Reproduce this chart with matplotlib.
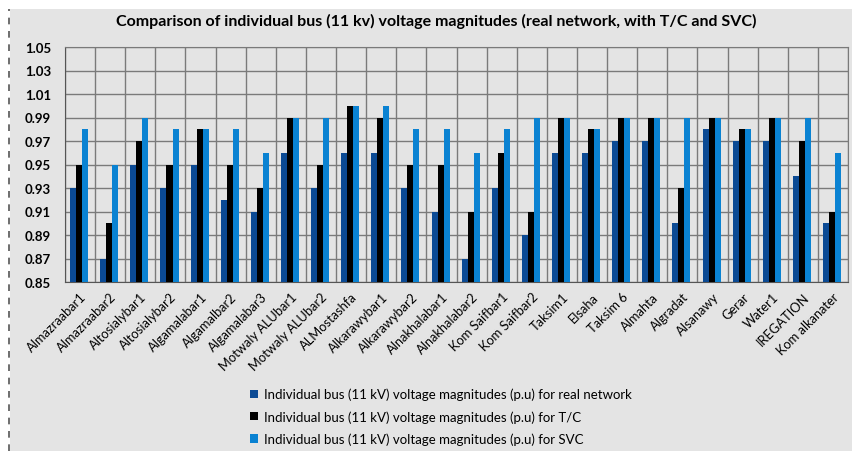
import matplotlib

matplotlib.use("Agg")
import matplotlib.pyplot as plt
import numpy as np
from matplotlib.patches import Rectangle

plt.rcParams["font.family"] = ["Lato", "DejaVu Sans"]

buses = [
    "Almazraabar1", "Almazraabar2", "Altosialybar1", "Altosialybar2",
    "Algamalabar1", "Algamalbar2", "Algamalabar3", "Motwaly ALUbar1",
    "Motwaly ALUbar2", "ALMostashfa", "Alkarawybar1", "Alkarawybar2",
    "Alnakhalabar1", "Alnakhalabar2", "Kom Saifbar1", "Kom Saifbar2",
    "Taksim1", "Elsaha", "Taksim 6", "Almahta", "Algradat", "Alsanawy",
    "Gerar", "Water1", "IREGATION", "Kom alkanater",
]
real_network = [0.93, 0.87, 0.95, 0.93, 0.95, 0.92, 0.91, 0.96, 0.93, 0.96, 0.96, 0.93, 0.91,
                0.87, 0.93, 0.89, 0.96, 0.96, 0.97, 0.97, 0.90, 0.98, 0.97, 0.97, 0.94, 0.90]
with_tc = [0.95, 0.90, 0.97, 0.95, 0.98, 0.95, 0.93, 0.99, 0.95, 1.00, 0.99, 0.95, 0.95,
           0.91, 0.96, 0.91, 0.99, 0.98, 0.99, 0.99, 0.93, 0.99, 0.98, 0.99, 0.97, 0.91]
with_svc = [0.98, 0.95, 0.99, 0.98, 0.98, 0.98, 0.96, 0.99, 0.99, 1.00, 1.00, 0.98, 0.98,
            0.96, 0.98, 0.99, 0.99, 0.98, 0.99, 0.99, 0.99, 0.99, 0.98, 0.99, 0.99, 0.96]

series = [
    ("Individual bus (11 kV) voltage magnitudes (p.u) for real network", real_network, "#0b4a94"),
    ("Individual bus (11 kV) voltage magnitudes (p.u) for T/C", with_tc, "#000000"),
    ("Individual bus (11 kV) voltage magnitudes (p.u) for SVC", with_svc, "#0a82d2"),
]

bg = "#e4e4e4"
fig = plt.figure(figsize=(8.52, 4.52), dpi=100, facecolor="white")
fig.add_artist(Rectangle((10 / 852, 0), 842 / 852, 442 / 452, transform=fig.transFigure,
                         facecolor=bg, edgecolor="none", zorder=-10))
fig.add_artist(plt.Line2D([9 / 852, 9 / 852], [0, 442 / 452], transform=fig.transFigure,
                          color="#555555", linewidth=1.2, linestyle=(0, (4, 4)), zorder=-5))

ax = fig.add_axes([65 / 852, 1 - 283 / 452, 783 / 852, 235 / 452])
ax.set_facecolor(bg)

x = np.arange(len(buses))
width = 0.2
for i, (label, vals, color) in enumerate(series):
    ax.bar(x + (i - 1) * width - 0.03, np.array(vals) - 0.85, width, bottom=0.85,
           color=color, label=label, zorder=3)

ax.set_xlim(-0.5, len(buses) - 0.5)
ax.set_ylim(0.85, 1.05)
ax.set_yticks(np.arange(0.85, 1.051, 0.02))
ax.set_yticklabels([f"{v:.2f}" for v in np.arange(0.85, 1.051, 0.02)], fontsize=9.5, fontweight="bold")
ax.set_xticks(x)
ax.set_xticklabels(buses, rotation=45, ha="right", rotation_mode="anchor", fontsize=9.3)
ax.set_xticks(np.arange(-0.5, len(buses), 1), minor=True)
ax.tick_params(axis="x", which="both", length=0, pad=6)
ax.tick_params(axis="y", length=0, pad=10)
ax.grid(axis="y", color="#7a7a7a", linewidth=1.0, zorder=1)
ax.grid(axis="x", which="minor", color="#7a7a7a", linewidth=1.0, zorder=1)
for side in ["top", "right"]:
    ax.spines[side].set_color("#7a7a7a")
for side in ["left", "bottom"]:
    ax.spines[side].set_color("#555555")

fig.text(436 / 852, 1 - 21 / 452, "Comparison of individual bus (11 kv) voltage magnitudes (real network, with T/C and SVC)",
         ha="center", va="center", fontsize=11.5, fontweight="bold")

ax.legend(loc="upper left", bbox_to_anchor=(238 / 852, 1 - 377 / 452), bbox_transform=fig.transFigure,
          frameon=False, fontsize=9.5, handlelength=0.6, handleheight=0.6, handletextpad=0.5,
          labelspacing=0.75)

fig.savefig("out.png", dpi=100, facecolor=fig.get_facecolor())
